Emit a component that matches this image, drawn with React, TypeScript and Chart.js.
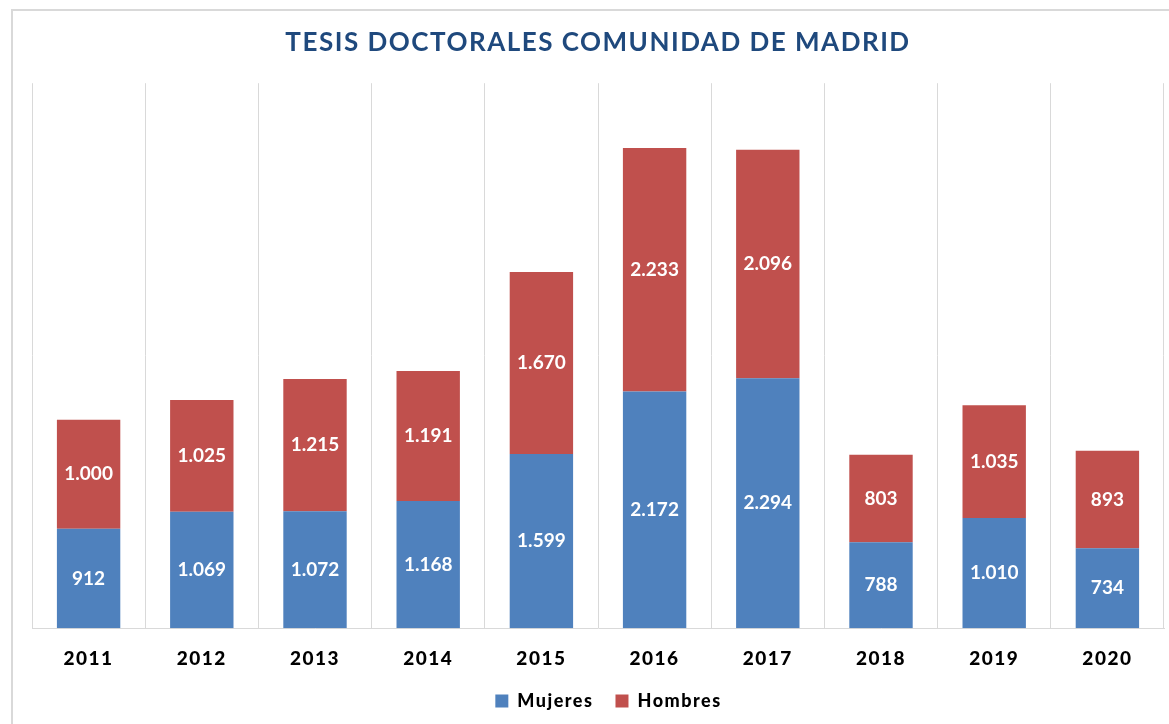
import React, { useEffect, useRef } from "react";
import { Chart, registerables } from "chart.js";

Chart.register(...registerables);

const years = ["2011", "2012", "2013", "2014", "2015", "2016", "2017", "2018", "2019", "2020"];
const mujeres = [912, 1069, 1072, 1168, 1599, 2172, 2294, 788, 1010, 734];
const hombres = [1000, 1025, 1215, 1191, 1670, 2233, 2096, 803, 1035, 893];
const titleText = "TESIS DOCTORALES COMUNIDAD DE MADRID";

const FONT = "Lato, 'Open Sans', sans-serif";

const fmt = (v: number) => String(v).replace(/\B(?=(\d{3})+(?!\d))/g, ".");

const spacingPlugin = {
  id: "spacing",
  beforeDraw(chart: any) {
    chart.ctx.letterSpacing = "1.5px";
  },
  beforeDatasetsDraw(chart: any) {
    chart.ctx.letterSpacing = "0px";
  },
  afterDatasetsDraw(chart: any) {
    const ctx = chart.ctx;
    ctx.save();
    ctx.letterSpacing = "0px";
    ctx.font = `bold 19px ${FONT}`;
    ctx.fillStyle = "#ffffff";
    ctx.textAlign = "center";
    ctx.textBaseline = "middle";
    chart.data.datasets.forEach((ds: any, i: number) => {
      const meta = chart.getDatasetMeta(i);
      meta.data.forEach((bar: any, j: number) => {
        const y = (bar.y + bar.base) / 2;
        ctx.fillText(fmt(ds.data[j]), bar.x, y);
      });
    });
    ctx.restore();
  },
  afterDraw(chart: any) {
    chart.ctx.letterSpacing = "0px";
  },
};

export default function App() {
  const ref = useRef<HTMLCanvasElement>(null);
  useEffect(() => {
    const chart = new Chart(ref.current!, {
      type: "bar",
      data: {
        labels: years,
        datasets: [
          { label: "Mujeres", data: mujeres, backgroundColor: "#4f81bd", barPercentage: 0.56, categoryPercentage: 1 },
          { label: "Hombres", data: hombres, backgroundColor: "#c0504d", barPercentage: 0.56, categoryPercentage: 1 },
        ],
      },
      options: {
        animation: false,
        responsive: false,
        maintainAspectRatio: false,
        layout: { padding: { left: 32, right: 5, top: 0, bottom: 4 } },
        scales: {
          x: {
            stacked: true,
            grid: { color: "#d9d9d9", drawTicks: false, offset: true },
            border: { color: "#d9d9d9" },
            ticks: { color: "#000", font: { family: FONT, size: 19, weight: 900 }, padding: 19 },
            afterFit: (scale: any) => {
              scale.height -= 19;
            },
          },
          y: { stacked: true, display: false, min: 0, max: 5000 },
        },
        plugins: {
          title: {
            display: true,
            text: titleText,
            color: "#1f497d",
            font: { family: FONT, size: 26, weight: "bold" },
            padding: { top: 27, bottom: 25 },
          },
          legend: {
            position: "bottom",
            labels: {
              color: "#000",
              font: { family: FONT, size: 18, weight: 900 },
              boxWidth: 13,
              boxHeight: 13,
              padding: 22,
            },
          },
          tooltip: { enabled: false },
        },
      },
      plugins: [spacingPlugin],
    } as any);
    return () => chart.destroy();
  }, []);
  return (
    <div style={{ position: "fixed", left: 0, top: 0, width: 1169, height: 724, overflow: "hidden", background: "#fff" }}>
      <div style={{ position: "absolute", left: 11, top: 9, width: 2000, height: 2000, borderLeft: "2px solid #d9d9d9", borderTop: "2px solid #d9d9d9" }} />
      <canvas ref={ref} width={1169} height={724} style={{ position: "absolute", left: 0, top: 0 }} />
    </div>
  );
}
